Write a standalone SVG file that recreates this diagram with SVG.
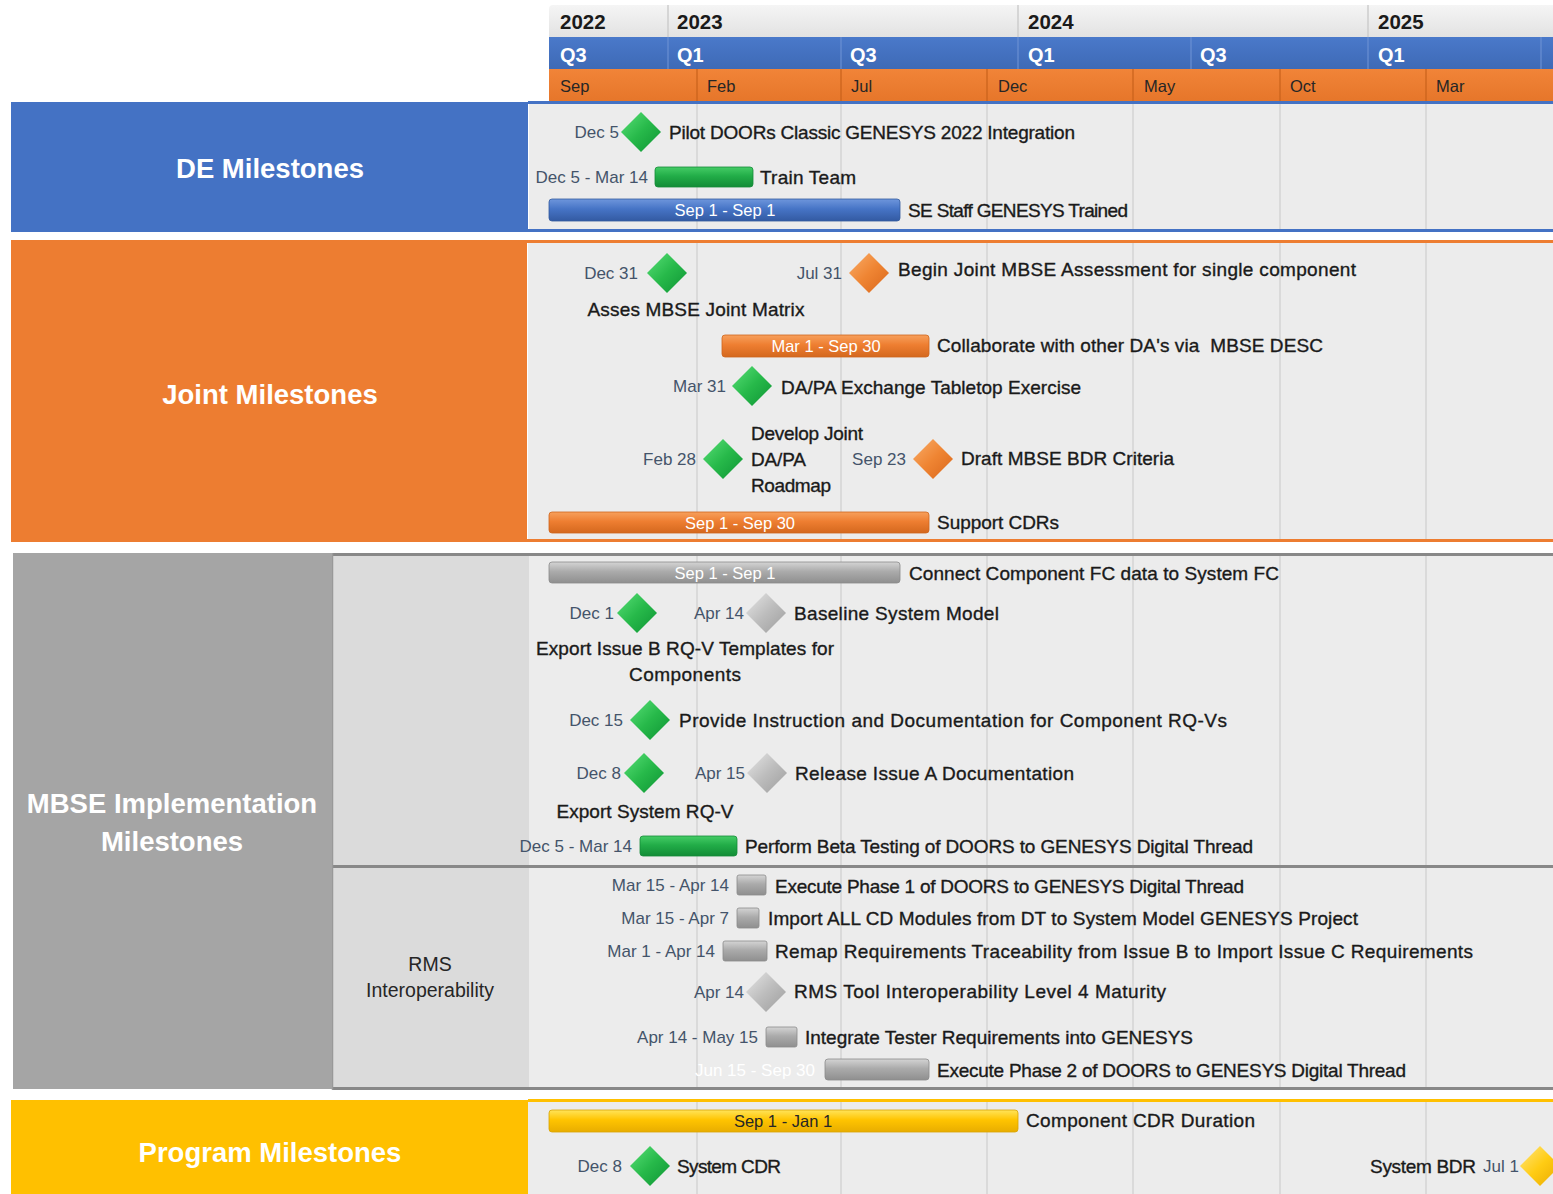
<svg xmlns="http://www.w3.org/2000/svg" xmlns:xlink="http://www.w3.org/1999/xlink" width="1553" height="1194" viewBox="0 0 1553 1194">
  <style>
    .hdrYear { font: bold 20.5px "Liberation Sans", Arial, sans-serif; fill: #1a1a1a; }
    .hdrQ { font: bold 20px "Liberation Sans", Arial, sans-serif; fill: #ffffff; }
    .hdrM { font: 16.5px "Liberation Sans", Arial, sans-serif; fill: #262626; }
    .title { font: bold 27.5px "Liberation Sans", Arial, sans-serif; fill: #ffffff; text-anchor: middle; dominant-baseline: central; }
    .task, .taskC { font: 19px "Liberation Sans", Arial, sans-serif; fill: #1a1a1a; stroke: #1a1a1a; stroke-width: 0.35; dominant-baseline: central; }
    .taskC { text-anchor: middle; }
    .date { font: 17px "Liberation Sans", Arial, sans-serif; fill: #44546a; dominant-baseline: central; text-anchor: end; }
    .barTxt { font: 16.5px "Liberation Sans", Arial, sans-serif; fill: #ffffff; dominant-baseline: central; text-anchor: middle; }
    .sub { font: 19.5px "Liberation Sans", Arial, sans-serif; fill: #262626; text-anchor: middle; dominant-baseline: central; }
    .grid { stroke: #d3d3d3; stroke-width: 1.5; fill: none; }
    .bar { stroke-width: 0.8; }
  </style>
  <defs>
    <path id="dm" d="M0,-20 L20,0 L0,20 L-20,0 Z"/>
    <linearGradient id="dGreen" x1="0" y1="0" x2="1" y2="1">
      <stop offset="0" stop-color="#5ae078"/><stop offset="0.5" stop-color="#27b94a"/><stop offset="1" stop-color="#0e9434"/>
    </linearGradient>
    <linearGradient id="dOrange" x1="0" y1="0" x2="1" y2="1">
      <stop offset="0" stop-color="#f9ad6a"/><stop offset="0.5" stop-color="#ef8533"/><stop offset="1" stop-color="#d9661b"/>
    </linearGradient>
    <linearGradient id="dGray" x1="0" y1="0" x2="1" y2="1">
      <stop offset="0" stop-color="#e6e6e6"/><stop offset="0.5" stop-color="#bdbdbd"/><stop offset="1" stop-color="#9d9d9d"/>
    </linearGradient>
    <linearGradient id="dYellow" x1="0" y1="0" x2="1" y2="1">
      <stop offset="0" stop-color="#ffe680"/><stop offset="0.5" stop-color="#ffcc14"/><stop offset="1" stop-color="#e8a900"/>
    </linearGradient>
    <linearGradient id="bGreen" x1="0" y1="0" x2="0" y2="1">
      <stop offset="0" stop-color="#45cc66"/><stop offset="0.45" stop-color="#22ad48"/><stop offset="1" stop-color="#128c36"/>
    </linearGradient>
    <linearGradient id="bBlue" x1="0" y1="0" x2="0" y2="1">
      <stop offset="0" stop-color="#6e96dc"/><stop offset="0.45" stop-color="#4674c6"/><stop offset="1" stop-color="#335aa2"/>
    </linearGradient>
    <linearGradient id="bOrange" x1="0" y1="0" x2="0" y2="1">
      <stop offset="0" stop-color="#f7a05c"/><stop offset="0.45" stop-color="#ee7e31"/><stop offset="1" stop-color="#d4681e"/>
    </linearGradient>
    <linearGradient id="bGray" x1="0" y1="0" x2="0" y2="1">
      <stop offset="0" stop-color="#d4d4d4"/><stop offset="0.45" stop-color="#ababab"/><stop offset="1" stop-color="#8f8f8f"/>
    </linearGradient>
    <linearGradient id="bYellow" x1="0" y1="0" x2="0" y2="1">
      <stop offset="0" stop-color="#ffe45a"/><stop offset="0.45" stop-color="#ffc400"/><stop offset="1" stop-color="#e8ad00"/>
    </linearGradient>
    <linearGradient id="hYear" x1="0" y1="0" x2="0" y2="1">
      <stop offset="0" stop-color="#f5f5f5"/><stop offset="1" stop-color="#e2e2e2"/>
    </linearGradient>
    <linearGradient id="hQ" x1="0" y1="0" x2="0" y2="1">
      <stop offset="0" stop-color="#4a79ca"/><stop offset="1" stop-color="#3e6ab6"/>
    </linearGradient>
    <linearGradient id="hM" x1="0" y1="0" x2="0" y2="1">
      <stop offset="0" stop-color="#f18438"/><stop offset="1" stop-color="#e6762a"/>
    </linearGradient>
  </defs>

  <rect width="1553" height="1194" fill="#ffffff"/>

  <!-- timescale header -->
  <g id="timescale">
    <path d="M549,9 Q549,5 553,5 H1553 V37 H549 Z" fill="url(#hYear)"/>
    <rect x="549" y="37" width="1004" height="32" fill="url(#hQ)"/>
    <rect x="549" y="69" width="1004" height="32" fill="url(#hM)"/>
    <path d="M668,5V37 M1018,5V37 M1368,5V37" stroke="#cdcdcd" stroke-width="1.5"/>
    <path d="M668,37V69 M841,37V69 M1018,37V69 M1191,37V69 M1368,37V69 M1541,37V69" stroke="#6a8fd2" stroke-width="1.2"/>
    <path d="M697,69V101 M841,69V101 M987,69V101 M1133,69V101 M1280,69V101 M1426,69V101" stroke="#c9621c" stroke-width="1.2"/>
    <text class="hdrYear" x="560" y="29">2022</text>
    <text class="hdrYear" x="677" y="29">2023</text>
    <text class="hdrYear" x="1028" y="29">2024</text>
    <text class="hdrYear" x="1378" y="29">2025</text>
    <text class="hdrQ" x="560" y="62">Q3</text>
    <text class="hdrQ" x="677" y="62">Q1</text>
    <text class="hdrQ" x="850" y="62">Q3</text>
    <text class="hdrQ" x="1028" y="62">Q1</text>
    <text class="hdrQ" x="1200" y="62">Q3</text>
    <text class="hdrQ" x="1378" y="62">Q1</text>
    <text class="hdrM" x="560" y="92">Sep</text>
    <text class="hdrM" x="707" y="92">Feb</text>
    <text class="hdrM" x="851" y="92">Jul</text>
    <text class="hdrM" x="998" y="92">Dec</text>
    <text class="hdrM" x="1144" y="92">May</text>
    <text class="hdrM" x="1290" y="92">Oct</text>
    <text class="hdrM" x="1436" y="92">Mar</text>
  </g>

  <!-- swimlane backgrounds -->
  <g id="lanes">
    <rect x="529" y="104" width="1024" height="125" fill="#ececec"/>
    <rect x="528" y="243" width="1025" height="297" fill="#ececec"/>
    <rect x="332" y="556" width="197" height="309" fill="#dbdbdb"/>
    <rect x="332" y="868" width="197" height="220" fill="#dbdbdb"/>
    <rect x="529" y="556" width="1024" height="532" fill="#ececec"/>
    <rect x="528" y="1102" width="1025" height="92" fill="#ececec"/>
    <path class="grid" d="M697,104V229 M841,104V229 M987,104V229 M1133,104V229 M1280,104V229 M1426,104V229
      M697,243V540 M841,243V540 M987,243V540 M1133,243V540 M1280,243V540 M1426,243V540
      M697,556V1087 M841,556V1087 M987,556V1087 M1133,556V1087 M1280,556V1087 M1426,556V1087
      M697,1102V1194 M841,1102V1194 M987,1102V1194 M1133,1102V1194 M1280,1102V1194 M1426,1102V1194"/>
    <path d="M528,102.5H1553 M528,230.5H1553" stroke="#4472c4" stroke-width="3"/>
    <path d="M527,241.5H1553 M527,540.5H1553" stroke="#ed7d31" stroke-width="3"/>
    <path d="M332,554.5H1553 M332,866.5H1553 M332,1088.5H1553" stroke="#888888" stroke-width="3"/>
    <path d="M332.5,553V1090" stroke="#999999" stroke-width="1.5"/>
    <path d="M528,1100.5H1553" stroke="#ffc000" stroke-width="3"/>
  </g>

  <!-- swimlane titles -->
  <g id="lane-de">
    <rect x="11" y="102" width="517" height="130" fill="#4472c4"/>
    <text class="title" x="270" y="168">DE Milestones</text>
  </g>
  <g id="lane-joint">
    <rect x="11" y="240" width="516" height="302" fill="#ed7d31"/>
    <text class="title" x="270" y="394">Joint Milestones</text>
  </g>
  <g id="lane-mbse">
    <rect x="13" y="553" width="319" height="536" fill="#a5a5a5"/>
    <text class="title" x="172" y="803">MBSE Implementation</text>
    <text class="title" x="172" y="841">Milestones</text>
  </g>
  <g id="lane-rms">
    <text class="sub" x="430" y="964">RMS</text>
    <text class="sub" x="430" y="990">Interoperability</text>
  </g>
  <g id="lane-program">
    <rect x="11" y="1100" width="517" height="94" fill="#ffc000"/>
    <text class="title" x="270" y="1152">Program Milestones</text>
  </g>

  <!-- DE milestones -->
  <g id="pilot-doors">
    <text class="date" x="619" y="132">Dec 5</text>
    <use href="#dm" x="641" y="132" fill="url(#dGreen)"/>
    <text class="task" x="669" y="132" textLength="406">Pilot DOORs Classic GENESYS 2022 Integration</text>
  </g>
  <g id="train-team">
    <text class="date" x="648" y="177">Dec 5 - Mar 14</text>
    <rect class="bar" x="655" y="167" width="98" height="20" rx="3" fill="url(#bGreen)" stroke="#148c38"/>
    <text class="task" x="760" y="177" textLength="96">Train Team</text>
  </g>
  <g id="se-staff-trained">
    <rect class="bar" x="549" y="199" width="351" height="22" rx="3" fill="url(#bBlue)" stroke="#325a9e"/>
    <text class="barTxt" x="725" y="210">Sep 1 - Sep 1</text>
    <text class="task" x="908" y="210" textLength="220">SE Staff GENESYS Trained</text>
  </g>

  <!-- Joint milestones -->
  <g id="asses-matrix">
    <text class="date" x="638" y="273">Dec 31</text>
    <use href="#dm" x="667" y="273" fill="url(#dGreen)"/>
    <text class="taskC" x="696" y="309" textLength="217">Asses MBSE Joint Matrix</text>
  </g>
  <g id="begin-assessment">
    <text class="date" x="842" y="273">Jul 31</text>
    <use href="#dm" x="869" y="273" fill="url(#dOrange)"/>
    <text class="task" x="898" y="269" textLength="458">Begin Joint MBSE Assessment for single component</text>
  </g>
  <g id="collaborate-desc">
    <rect class="bar" x="722" y="335" width="207" height="22" rx="3" fill="url(#bOrange)" stroke="#cf651c"/>
    <text class="barTxt" x="826" y="346">Mar 1 - Sep 30</text>
    <text class="task" x="937" y="345" textLength="386" xml:space="preserve">Collaborate with other DA's via  MBSE DESC</text>
  </g>
  <g id="tabletop-exercise">
    <text class="date" x="726" y="386">Mar 31</text>
    <use href="#dm" x="752" y="386" fill="url(#dGreen)"/>
    <text class="task" x="781" y="387" textLength="300">DA/PA Exchange Tabletop Exercise</text>
  </g>
  <g id="joint-roadmap">
    <text class="date" x="696" y="459">Feb 28</text>
    <use href="#dm" x="723" y="459" fill="url(#dGreen)"/>
    <text class="task" x="751" y="433" textLength="112">Develop Joint</text>
    <text class="task" x="751" y="459" textLength="55">DA/PA</text>
    <text class="task" x="751" y="485" textLength="80">Roadmap</text>
  </g>
  <g id="bdr-criteria">
    <text class="date" x="906" y="459">Sep 23</text>
    <use href="#dm" x="933" y="459" fill="url(#dOrange)"/>
    <text class="task" x="961" y="458" textLength="213">Draft MBSE BDR Criteria</text>
  </g>
  <g id="support-cdrs">
    <rect class="bar" x="549" y="512" width="380" height="21" rx="3" fill="url(#bOrange)" stroke="#cf651c"/>
    <text class="barTxt" x="740" y="523">Sep 1 - Sep 30</text>
    <text class="task" x="937" y="522" textLength="122">Support CDRs</text>
  </g>

  <!-- MBSE implementation milestones -->
  <g id="connect-fc">
    <rect class="bar" x="549" y="562" width="351" height="21" rx="3" fill="url(#bGray)" stroke="#8a8a8a"/>
    <text class="barTxt" x="725" y="573">Sep 1 - Sep 1</text>
    <text class="task" x="909" y="573" textLength="370">Connect Component FC data to System FC</text>
  </g>
  <g id="export-templates">
    <text class="date" x="614" y="613">Dec 1</text>
    <use href="#dm" x="637" y="613" fill="url(#dGreen)"/>
    <text class="taskC" x="685" y="648" textLength="298">Export Issue B RQ-V Templates for</text>
    <text class="taskC" x="685" y="674" textLength="112">Components</text>
  </g>
  <g id="baseline-model">
    <text class="date" x="744" y="613">Apr 14</text>
    <use href="#dm" x="766" y="613" fill="url(#dGray)"/>
    <text class="task" x="794" y="613" textLength="205">Baseline System Model</text>
  </g>
  <g id="instruction-docs">
    <text class="date" x="623" y="720">Dec 15</text>
    <use href="#dm" x="650" y="720" fill="url(#dGreen)"/>
    <text class="task" x="679" y="720" textLength="548">Provide Instruction and Documentation for Component RQ-Vs</text>
  </g>
  <g id="export-system-rqv">
    <text class="date" x="621" y="773">Dec 8</text>
    <use href="#dm" x="644" y="773" fill="url(#dGreen)"/>
    <text class="taskC" x="645" y="811" textLength="177">Export System RQ-V</text>
  </g>
  <g id="release-issue-a">
    <text class="date" x="745" y="773">Apr 15</text>
    <use href="#dm" x="767" y="773" fill="url(#dGray)"/>
    <text class="task" x="795" y="773" textLength="279">Release Issue A Documentation</text>
  </g>
  <g id="beta-testing">
    <text class="date" x="632" y="846">Dec 5 - Mar 14</text>
    <rect class="bar" x="640" y="836" width="97" height="20" rx="3" fill="url(#bGreen)" stroke="#148c38"/>
    <text class="task" x="745" y="846" textLength="508">Perform Beta Testing of DOORS to GENESYS Digital Thread</text>
  </g>

  <!-- RMS interoperability -->
  <g id="phase-1">
    <text class="date" x="729" y="885">Mar 15 - Apr 14</text>
    <rect class="bar" x="737" y="875" width="29" height="20" rx="2" fill="url(#bGray)" stroke="#8a8a8a"/>
    <text class="task" x="775" y="886" textLength="469">Execute Phase 1 of DOORS to GENESYS Digital Thread</text>
  </g>
  <g id="import-cd-modules">
    <text class="date" x="729" y="918">Mar 15 - Apr 7</text>
    <rect class="bar" x="737" y="908" width="22" height="20" rx="2" fill="url(#bGray)" stroke="#8a8a8a"/>
    <text class="task" x="768" y="918" textLength="590">Import ALL CD Modules from DT to System Model GENESYS Project</text>
  </g>
  <g id="remap-traceability">
    <text class="date" x="715" y="951">Mar 1 - Apr 14</text>
    <rect class="bar" x="723" y="941" width="44" height="20" rx="2" fill="url(#bGray)" stroke="#8a8a8a"/>
    <text class="task" x="775" y="951" textLength="698">Remap Requirements Traceability from Issue B to Import Issue C Requirements</text>
  </g>
  <g id="rms-level-4">
    <text class="date" x="744" y="992">Apr 14</text>
    <use href="#dm" x="766" y="992" fill="url(#dGray)"/>
    <text class="task" x="794" y="991" textLength="372">RMS Tool Interoperability Level 4 Maturity</text>
  </g>
  <g id="tester-requirements">
    <text class="date" x="758" y="1037">Apr 14 - May 15</text>
    <rect class="bar" x="766" y="1027" width="31" height="20" rx="2" fill="url(#bGray)" stroke="#8a8a8a"/>
    <text class="task" x="805" y="1037" textLength="388">Integrate Tester Requirements into GENESYS</text>
  </g>
  <g id="phase-2">
    <text class="date" x="815" y="1070" style="fill:#ffffff">Jun 15 - Sep 30</text>
    <rect class="bar" x="825" y="1059" width="104" height="21" rx="3" fill="url(#bGray)" stroke="#8a8a8a"/>
    <text class="task" x="937" y="1070" textLength="469">Execute Phase 2 of DOORS to GENESYS Digital Thread</text>
  </g>

  <!-- Program milestones -->
  <g id="component-cdr">
    <rect class="bar" x="549" y="1110" width="469" height="22" rx="3" fill="url(#bYellow)" stroke="#d9a300"/>
    <text class="barTxt" x="783" y="1121" style="fill:#262626">Sep 1 - Jan 1</text>
    <text class="task" x="1026" y="1120" textLength="229">Component CDR Duration</text>
  </g>
  <g id="system-cdr">
    <text class="date" x="622" y="1166">Dec 8</text>
    <use href="#dm" x="650" y="1166" fill="url(#dGreen)"/>
    <text class="task" x="677" y="1166" textLength="104">System CDR</text>
  </g>
  <g id="system-bdr">
    <text class="task" x="1370" y="1166" textLength="106">System BDR</text>
    <text class="date" x="1519" y="1166">Jul 1</text>
    <use href="#dm" x="1540" y="1166" fill="url(#dYellow)"/>
  </g>
</svg>
